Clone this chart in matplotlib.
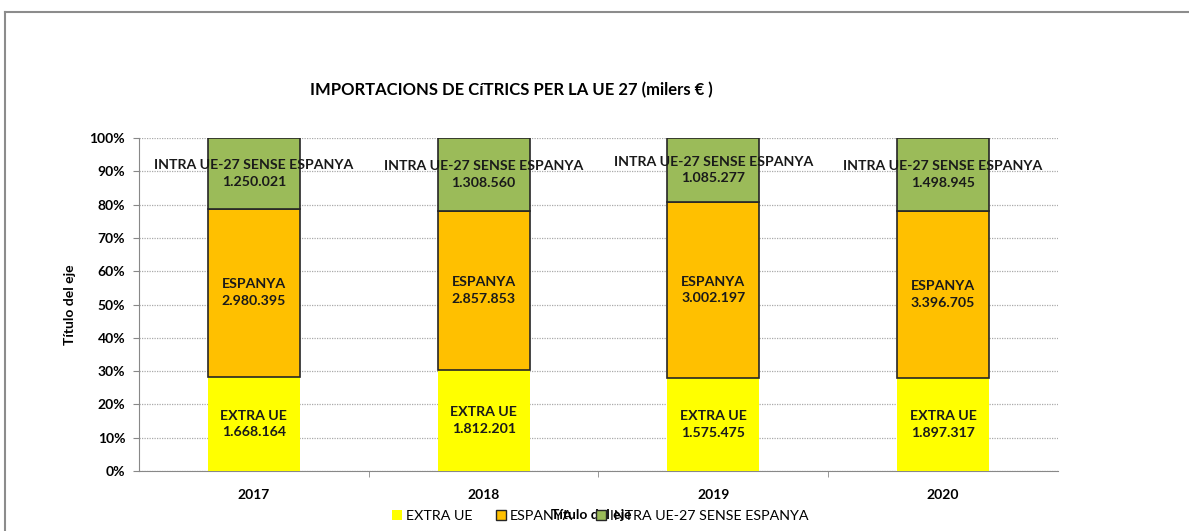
import matplotlib.pyplot as plt
import numpy as np
from matplotlib.lines import Line2D
from matplotlib.patches import Patch

plt.rcParams['font.family'] = ['Lato', 'DejaVu Sans']

# data (milers EUR)
years = ['2017', '2018', '2019', '2020']
extra_ue = [1668164, 1812201, 1575475, 1897317]
espanya = [2980395, 2857853, 3002197, 3396705]
intra_ue = [1250021, 1308560, 1085277, 1498945]
series_names = ['EXTRA UE', 'ESPANYA', 'INTRA UE-27 SENSE ESPANYA']
colors = ['#FFFF00', '#FFC000', '#9BBB59']

def fmt(v):
    return '{:,}'.format(v).replace(',', '.')

series = [np.array(extra_ue, float), np.array(espanya, float), np.array(intra_ue, float)]
total = sum(series)
shares = [s / total * 100 for s in series]

fig = plt.figure(figsize=(11.89, 5.31), dpi=100)
ax = fig.add_axes([0.1169, 0.1130, 0.7729, 0.6271])

x = np.arange(len(years))
bottom = np.zeros(len(years))
for i, (sh, raw) in enumerate(zip(shares, series)):
    edge = 'none' if i == 0 else '#262626'
    ax.bar(x, sh, 0.4, bottom=bottom, color=colors[i], edgecolor=edge, linewidth=1.2, zorder=3)
    for j in range(len(years)):
        ax.text(x[j], bottom[j] + sh[j] / 2, series_names[i] + '\n' + fmt(int(raw[j])),
                ha='center', va='center', fontsize=10.2, fontweight='bold',
                linespacing=1.45, color='#1a1a1a', zorder=4)
    bottom = bottom + sh

ax.set_xlim(-0.5, len(years) - 0.5)
ax.set_ylim(0, 100)
ax.set_yticks(np.arange(0, 101, 10))
ax.set_yticklabels(['{}%'.format(v) for v in range(0, 101, 10)], fontsize=10, fontweight='bold')
ax.set_xticks(x)
ax.set_xticklabels(years, fontsize=10, fontweight='bold')
ax.set_xticks(np.arange(0.5, len(years) - 1, 1), minor=True)
ax.tick_params(axis='x', which='major', length=0, pad=13)
ax.tick_params(axis='x', which='minor', length=4, color='#888888', direction='out')
ax.tick_params(axis='y', length=4, color='#888888', pad=6)
ax.grid(axis='y', linestyle=(0, (1, 1)), color='#aaaaaa', linewidth=0.9, zorder=0)
for s in ['top', 'right']:
    ax.spines[s].set_visible(False)
ax.spines['left'].set_color('#888888')
ax.spines['bottom'].set_color('#888888')

ax.set_ylabel('Título del eje', fontsize=10, fontweight='bold', labelpad=10)
fig.text(0.497, 0.018, 'Título del eje', ha='center', va='bottom', fontsize=10, fontweight='bold')

fig.text(0.43, 0.83, 'IMPORTACIONS DE CíTRICS PER LA UE 27 (milers € )', ha='center', va='center',
         fontsize=12, fontweight='bold')

handles = [Patch(facecolor=colors[0], edgecolor='none'),
           Patch(facecolor=colors[1], edgecolor='#262626'),
           Patch(facecolor=colors[2], edgecolor='#262626')]
fig.legend(handles, series_names, loc='center', bbox_to_anchor=(0.505, 0.028), ncol=3,
           frameon=False, fontsize=10.3, handlelength=0.7, handleheight=0.7,
           handletextpad=0.3, columnspacing=1.6)

# outer chart frame
fig.add_artist(Line2D([0.004, 1.0], [0.977, 0.977], color='#8c8c8c', linewidth=1.5))
fig.add_artist(Line2D([0.004, 0.004], [0.0, 0.977], color='#8c8c8c', linewidth=1.5))

fig.savefig('out.png', dpi=100, facecolor='white')
